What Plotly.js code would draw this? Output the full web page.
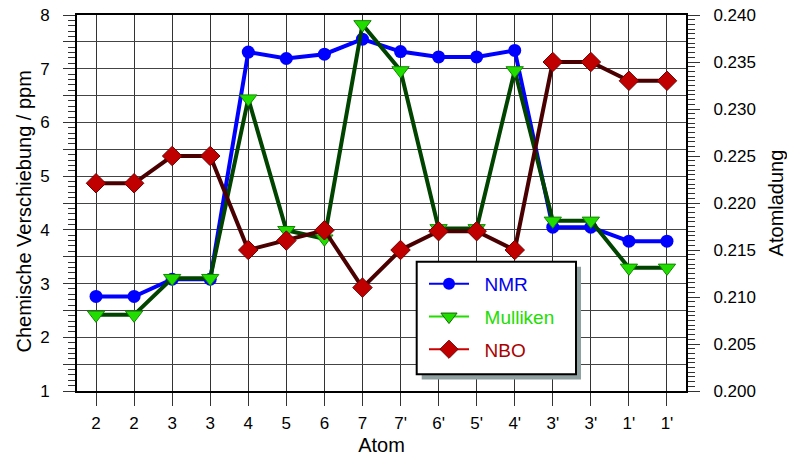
<!DOCTYPE html>
<html><head><meta charset="utf-8">
<script src="https://cdn.plot.ly/plotly-3.0.1.min.js"></script>
<style>html,body{margin:0;padding:0;background:#fff}#chart{width:787px;height:456px}</style>
</head><body><div id="chart"></div>
<script>
const atoms = ['2','2','3','3','4','5','6','7',"7'","6'","5'","4'","3'","3'","1'","1'"];
const nmr = [2.76,2.76,3.08,3.08,7.31,7.19,7.27,7.55,7.32,7.22,7.22,7.34,4.05,4.05,3.79,3.79];
const mulliken = [0.2081,0.2081,0.2120,0.2120,0.2311,0.2171,0.2162,0.2390,0.2341,0.2173,0.2173,0.2341,0.2181,0.2181,0.2131,0.2131];
const nbo = [0.2221,0.2221,0.2250,0.2250,0.2150,0.2160,0.2171,0.2110,0.2150,0.2170,0.2170,0.2150,0.2350,0.2350,0.2330,0.2330];
const leftTickVals = [1,1.5,2,2.5,3,3.5,4,4.5,5,5.5,6,6.5,7,7.5,8];
const leftTickText = ['1','','2','','3','','4','','5','','6','','7','','8'];
const seriesNames = ['NMR','Mulliken','NBO'];

const idx = atoms.map((_, i) => i);
const FONT = 'Liberation Sans, Arial, Helvetica, sans-serif';

const W = 787, H = 456, ML = 77, MR = 101, MT = 15, MB = 65;
const PW = W - ML - MR, PH = H - MT - MB;
const px = x => (x - ML) / PW;
const py = y => (H - MB - y) / PH;
const pad = '&nbsp;&nbsp;';

const traces = [
  {x: idx, y: nmr, name: seriesNames[0], mode: 'lines+markers', showlegend: false,
   line: {color: '#0000ff', width: 4}, marker: {symbol: 'circle', size: 13, color: '#0000ff'}},
  {x: idx, y: mulliken, name: seriesNames[1], yaxis: 'y2', mode: 'lines+markers', showlegend: false,
   line: {color: '#004400', width: 4},
   marker: {symbol: 'triangle-down', size: 15, color: '#22dd00', line: {color: '#118800', width: 1}}},
  {x: idx, y: nbo, name: seriesNames[2], yaxis: 'y2', mode: 'lines+markers', showlegend: false,
   line: {color: '#4a0000', width: 4},
   marker: {symbol: 'diamond', size: 15, color: '#c00000', line: {color: '#700000', width: 1}}},
  // legend entries
  {x: [null], y: [null], name: pad + '<span style="color:#0000ee">' + seriesNames[0] + '</span>', legendgroup: 'a',
   mode: 'lines+markers', line: {color: '#0000ff', width: 2}, marker: {symbol: 'circle', size: 12, color: '#0000ff'}},
  {x: [null], y: [null], name: pad + '<span style="color:#22dd00">' + seriesNames[1] + '</span>', legendgroup: 'b',
   mode: 'lines+markers', line: {color: '#22dd00', width: 2},
   marker: {symbol: 'triangle-down', size: 14, color: '#22dd00', line: {color: '#116600', width: 1}}},
  {x: [null], y: [null], name: pad + '<span style="color:#aa0000">' + seriesNames[2] + '</span>', legendgroup: 'c',
   mode: 'lines+markers', line: {color: '#cc0000', width: 2},
   marker: {symbol: 'diamond', size: 14, color: '#c00000', line: {color: '#700000', width: 1}}}
];

const layout = {
  width: W, height: H,
  margin: {l: ML, r: MR, t: MT, b: MB, pad: 0},
  paper_bgcolor: '#fff', plot_bgcolor: '#fff',
  font: {family: FONT, size: 17, color: '#000'},
  showlegend: true,
  legend: {x: px(424), y: py(265), xanchor: 'left', yanchor: 'top',
           bgcolor: 'rgba(0,0,0,0)', borderwidth: 0, font: {size: 19, family: FONT},
           tracegroupgap: 5, itemwidth: 40},
  xaxis: {range: [-0.5, 15.5], tickmode: 'array', tickvals: idx, ticktext: atoms,
          showgrid: true, gridcolor: '#333', gridwidth: 1, zeroline: false,
          ticks: 'outside', ticklen: 13, tickcolor: '#333', tickwidth: 1,
          showline: true, linecolor: '#000', linewidth: 2, mirror: true,
          ticklabelstandoff: 3,
          tickfont: {size: 17},
          title: {text: 'Atom', font: {size: 20}, standoff: 28}},
  yaxis: {range: [1, 8], tickmode: 'array', tickvals: leftTickVals, ticktext: leftTickText,
          showgrid: true, gridcolor: '#444', gridwidth: 1, zeroline: false,
          ticks: 'outside', ticklen: 12, tickcolor: '#333', tickwidth: 1,
          minor: {tickmode: 'linear', tick0: 1, dtick: 0.1, ticks: 'outside', ticklen: 7, tickcolor: '#333', showgrid: false},
          showline: true, linecolor: '#000', linewidth: 2,
          ticklabelstandoff: 10, tickfont: {size: 17},
          title: {text: 'Chemische Verschiebung / ppm&nbsp;&nbsp;&nbsp;', font: {size: 20}, standoff: 3}},
  yaxis2: {overlaying: 'y', side: 'right', range: [0.2, 0.24], tick0: 0.2, dtick: 0.005, tickformat: '.3f',
           showgrid: false, zeroline: false,
           ticks: 'outside', ticklen: 12, tickcolor: '#333', tickwidth: 1,
           minor: {tickmode: 'linear', tick0: 0.2, dtick: 0.0005, ticks: 'outside', ticklen: 7, tickcolor: '#333', showgrid: false},
           showline: true, linecolor: '#000', linewidth: 2,
           ticklabelstandoff: 10, tickfont: {size: 17},
           title: {text: 'Atomladung', font: {size: 20}, standoff: 15}},
  shapes: [
    {type: 'rect', xref: 'paper', yref: 'paper', layer: 'above',
     x0: px(421.7), x1: px(581), y0: py(379.5), y1: py(266.7),
     fillcolor: '#8fa0a0', line: {width: 0}},
    {type: 'rect', xref: 'paper', yref: 'paper', layer: 'above',
     x0: px(416.7), x1: px(576), y0: py(374.3), y1: py(261.7),
     fillcolor: '#ffffff', line: {color: '#000', width: 2}}
  ]
};

Plotly.newPlot('chart', traces, layout, {displayModeBar: false, staticPlot: true});
</script>
</body></html>
